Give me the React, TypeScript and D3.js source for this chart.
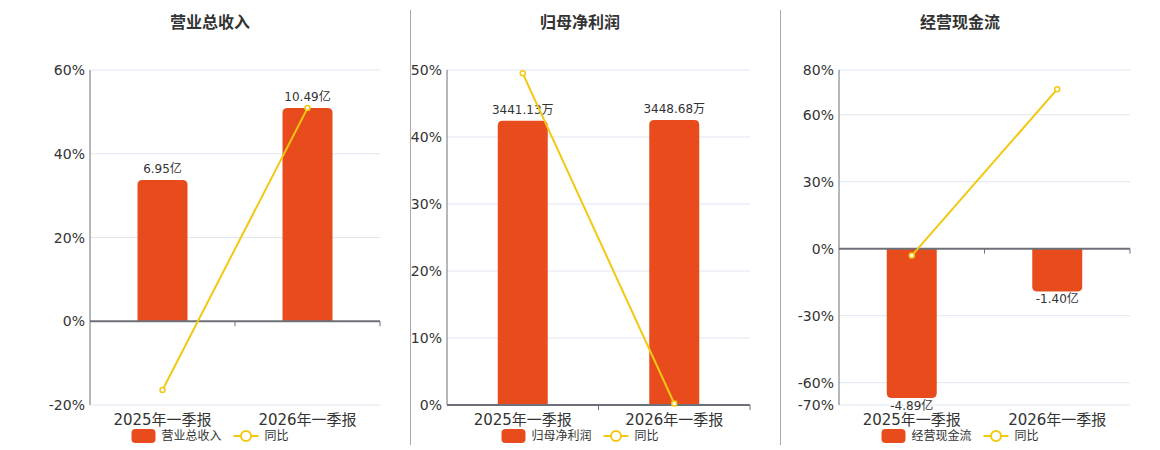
import React from 'react';
import * as d3 from 'd3';

const categories = ['2025年一季报', '2026年一季报'];

const revenueValues = [6.95, 10.49];
const revenueLabels = ['6.95亿', '10.49亿'];
const revenueYoy = [-16.4, 50.9];
const revenueTicks = [-20, 0, 20, 40, 60];
const revenueBarDomain = [-4.12, 12.36];

const profitValues = [3441.13, 3448.68];
const profitLabels = ['3441.13万', '3448.68万'];
const profitYoy = [49.5, 0.22];
const profitTicks = [0, 10, 20, 30, 40, 50];
const profitBarDomain = [0, 4054];

const cashValues = [-4.89, -1.4];
const cashLabels = ['-4.89亿', '-1.40亿'];
const cashYoy = [-3.1, 71.4];
const cashTicks = [-70, -60, -30, 0, 30, 60, 80];
const cashBarDomain = [-5.12, 5.85];

const BAR = '#e84c1c';
const LINE = '#f2c811';
const FONT = '"DejaVu Sans", "Noto Sans CJK SC", sans-serif';

type PanelProps = {
  title: string;
  legendName: string;
  values: number[];
  labels: string[];
  yoy: number[];
  ticks: number[];
  barDomain: number[];
  left: number;
  right: number;
  center: number;
};

function barPath(x: number, w: number, y0: number, y1: number, r: number) {
  // rounded corners on the far end of the bar
  const h = Math.abs(y1 - y0);
  const rr = Math.min(r, h / 2, w / 2);
  if (y1 < y0) {
    return `M${x},${y0}V${y1 + rr}Q${x},${y1} ${x + rr},${y1}H${x + w - rr}Q${x + w},${y1} ${x + w},${y1 + rr}V${y0}Z`;
  }
  return `M${x},${y0}V${y1 - rr}Q${x},${y1} ${x + rr},${y1}H${x + w - rr}Q${x + w},${y1} ${x + w},${y1 - rr}V${y0}Z`;
}

const Panel = (p: PanelProps) => {
  const top = 70, bottom = 405;
  const [tmin, tmax] = d3.extent(p.ticks) as [number, number];
  const y = d3.scaleLinear().domain([tmin, tmax]).range([bottom, top]);
  const yb = d3.scaleLinear().domain(p.barDomain).range([bottom, top]);
  const x = d3.scaleBand<string>().domain(categories).range([p.left, p.right]);
  const zero = y(0);
  const bw = 50;
  const line = d3
    .line<number>()
    .x((_, i) => x(categories[i])! + x.bandwidth() / 2)
    .y((d) => y(d));

  // legend layout
  const legendTextW = p.legendName.length * 12;
  const legendW = 24 + 6 + legendTextW + 12 + 25 + 6 + 24;
  const lx = p.center - legendW / 2;
  const ly = 436;

  return (
    <g>
      <text x={p.center} y={28} textAnchor="middle" fontSize={16} fontWeight="bold" fill="#333" fontFamily={FONT}>
        {p.title}
      </text>
      {p.ticks.map((t) => (
        <g key={t}>
          {t !== 0 && (
            <line x1={p.left} x2={p.right} y1={y(t)} y2={y(t)} stroke="#e0e6f1" strokeWidth={1} />
          )}
          <text x={p.left - 5} y={y(t)} dy="0.36em" textAnchor="end" fontSize={14} fill="#333" fontFamily={FONT}>
            {t}%
          </text>
        </g>
      ))}
      <line x1={p.left} x2={p.left} y1={top} y2={bottom} stroke="#6e7079" strokeWidth={1} />
      {categories.map((c, i) => {
        const cx = x(c)! + x.bandwidth() / 2;
        const v = p.values[i];
        const y1 = yb(v);
        const neg = v < 0;
        return (
          <g key={c}>
            <path d={barPath(cx - bw / 2, bw, zero, y1, 5)} fill={BAR} />
            <text
              x={cx}
              y={neg ? y1 + 12 : y1 - 7}
              textAnchor="middle"
              fontSize={12}
              fill="#333"
              fontFamily={FONT}
            >
              {p.labels[i]}
            </text>
            <text x={cx} y={425} textAnchor="middle" fontSize={15} fill="#333" fontFamily={FONT}>
              {c}
            </text>
          </g>
        );
      })}
      <line x1={p.left} x2={p.right} y1={zero} y2={zero} stroke="#6e7079" strokeWidth={2} />
      {categories.map((c, i) => (
        <line
          key={c}
          x1={x(c)! + x.bandwidth()}
          x2={x(c)! + x.bandwidth()}
          y1={zero}
          y2={zero + 5}
          stroke="#6e7079"
          strokeWidth={1}
        />
      ))}
      <path d={line(p.yoy)!} fill="none" stroke={LINE} strokeWidth={2} />
      {p.yoy.map((v, i) => (
        <circle
          key={i}
          cx={x(categories[i])! + x.bandwidth() / 2}
          cy={y(v)}
          r={2.5}
          fill="#fff"
          stroke={LINE}
          strokeWidth={1.5}
        />
      ))}
      <g fontFamily={FONT} fontSize={12} fill="#333">
        <rect x={lx} y={ly - 7} width={24} height={14} rx={4} fill={BAR} />
        <text x={lx + 30} y={ly} dy="0.36em">
          {p.legendName}
        </text>
        <line x1={lx + 30 + legendTextW + 12} x2={lx + 30 + legendTextW + 37} y1={ly} y2={ly} stroke={LINE} strokeWidth={2} />
        <circle cx={lx + 30 + legendTextW + 24.5} cy={ly} r={5} fill="#fff" stroke={LINE} strokeWidth={2} />
        <text x={lx + 30 + legendTextW + 43} y={ly} dy="0.36em">
          同比
        </text>
      </g>
    </g>
  );
};

export default function App() {
  return (
    <svg width={1160} height={450} style={{ display: 'block', position: 'absolute', left: 0, top: 0 }}>
      <rect width={1160} height={450} fill="#fff" />
      <line x1={410.5} x2={410.5} y1={10} y2={445} stroke="#aaa" />
      <line x1={780.5} x2={780.5} y1={10} y2={445} stroke="#aaa" />
      <Panel
        title="营业总收入"
        legendName="营业总收入"
        values={revenueValues}
        labels={revenueLabels}
        yoy={revenueYoy}
        ticks={revenueTicks}
        barDomain={revenueBarDomain}
        left={90}
        right={380}
        center={210}
      />
      <Panel
        title="归母净利润"
        legendName="归母净利润"
        values={profitValues}
        labels={profitLabels}
        yoy={profitYoy}
        ticks={profitTicks}
        barDomain={profitBarDomain}
        left={447}
        right={750}
        center={580}
      />
      <Panel
        title="经营现金流"
        legendName="经营现金流"
        values={cashValues}
        labels={cashLabels}
        yoy={cashYoy}
        ticks={cashTicks}
        barDomain={cashBarDomain}
        left={839}
        right={1130}
        center={960}
      />
    </svg>
  );
}
